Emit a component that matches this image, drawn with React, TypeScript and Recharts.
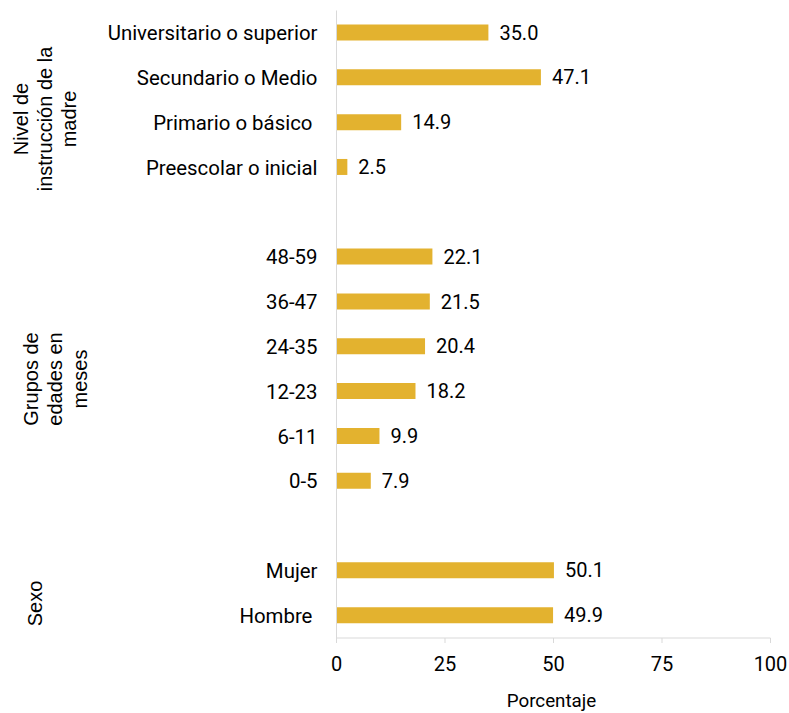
import { BarChart, Bar, XAxis, YAxis, LabelList } from 'recharts';

// Nivel de instrucción de la madre
const nivelCategorias = ['Universitario o superior', 'Secundario o Medio', 'Primario o básico ', 'Preescolar o inicial'];
const nivelValores = [35.0, 47.1, 14.9, 2.5];

// Grupos de edades en meses
const edadCategorias = ['48-59', '36-47', '24-35', '12-23', '6-11', '0-5'];
const edadValores = [22.1, 21.5, 20.4, 18.2, 9.9, 7.9];

// Sexo
const sexoCategorias = ['Mujer', 'Hombre '];
const sexoValores = [50.1, 49.9];

const ejeTicks = [0, 25, 50, 75, 100];

const tituloNivel = ['Nivel de', 'instrucción de la', 'madre'];
const tituloEdad = ['Grupos de', 'edades en', 'meses'];
const tituloSexo = ['Sexo'];

const WIDTH = 789;
const HEIGHT = 713;
const BAR_COLOR = '#E3B22F';
const AXIS_COLOR = '#D9D9D9';
const FONT = 'Roboto, sans-serif';

interface Row {
  key: string;
  label: string;
  value: number | null;
}

function rowsFor(prefix: string, labels: string[], values: number[]): Row[] {
  return labels.map((label, i) => ({ key: `${prefix}${i}`, label, value: values[i] }));
}

// blank rows separate the three groups on the category axis
const rows: Row[] = [
  ...rowsFor('n', nivelCategorias, nivelValores),
  { key: 'sep1', label: '', value: null },
  ...rowsFor('e', edadCategorias, edadValores),
  { key: 'sep2', label: '', value: null },
  ...rowsFor('s', sexoCategorias, sexoValores),
];

const labelByKey: Record<string, string> = Object.fromEntries(rows.map(r => [r.key, r.label]));

function CategoryTick(props: any) {
  const { x, y, payload } = props;
  const text = labelByKey[payload.value] ?? '';
  if (!text) return null;
  return (
    <text
      x={x}
      y={y}
      dy="0.355em"
      textAnchor="end"
      fill="#000"
      fontSize={20.4}
      fontFamily={FONT}
      style={{ whiteSpace: 'pre' }}
    >
      {text}
    </text>
  );
}

// rotated group titles at the far left
function GroupTitle({ lines, baselines, cy }: { lines: string[]; baselines: number[]; cy: number }) {
  return (
    <g>
      {lines.map((line, i) => (
        <text
          key={line}
          x={baselines[i]}
          y={cy}
          transform={`rotate(-90 ${baselines[i]} ${cy})`}
          textAnchor="middle"
          fill="#000"
          fontSize={20}
          fontFamily="'Liberation Sans', Arial, sans-serif"
        >
          {line}
        </text>
      ))}
    </g>
  );
}

export default function App() {
  return (
    <div style={{ position: 'absolute', left: 0, top: 0, width: WIDTH, height: HEIGHT, background: '#fff' }}>
      <BarChart
        width={WIDTH}
        height={HEIGHT}
        data={rows}
        layout="vertical"
        margin={{ top: 10.5, right: 18.5, bottom: 0, left: 0 }}
      >
        <XAxis
          type="number"
          domain={[0, 100]}
          ticks={ejeTicks}
          interval={0}
          height={75}
          axisLine={{ stroke: AXIS_COLOR }}
          tickLine={{ stroke: AXIS_COLOR }}
          tickSize={5}
          tickMargin={14}
          tick={{ fill: '#000', fontSize: 20, fontFamily: FONT }}
          label={{
            value: 'Porcentaje',
            position: 'insideBottom',
            offset: 6,
            dx: -2,
            fill: '#000',
            fontSize: 18.8,
            fontFamily: FONT,
          }}
        />
        <YAxis
          type="category"
          dataKey="key"
          width={336.5}
          interval={0}
          axisLine={{ stroke: AXIS_COLOR }}
          tickLine={false}
          tickSize={0}
          tickMargin={19}
          tick={<CategoryTick />}
        />
        <Bar dataKey="value" fill={BAR_COLOR} barSize={16} isAnimationActive={false}>
          <LabelList
            dataKey="value"
            position="right"
            offset={11}
            fill="#000"
            fontSize={20}
            fontFamily={FONT}
            formatter={(v: any) => (v == null ? '' : Number(v).toFixed(1))}
          />
        </Bar>
      </BarChart>
      <svg
        width={WIDTH}
        height={HEIGHT}
        style={{ position: 'absolute', left: 0, top: 0, pointerEvents: 'none' }}
      >
        <GroupTitle lines={tituloNivel} baselines={[28, 52, 76]} cy={119} />
        <GroupTitle lines={tituloEdad} baselines={[37.5, 62, 86.5]} cy={379} />
        <GroupTitle lines={tituloSexo} baselines={[42]} cy={603.5} />
      </svg>
    </div>
  );
}
